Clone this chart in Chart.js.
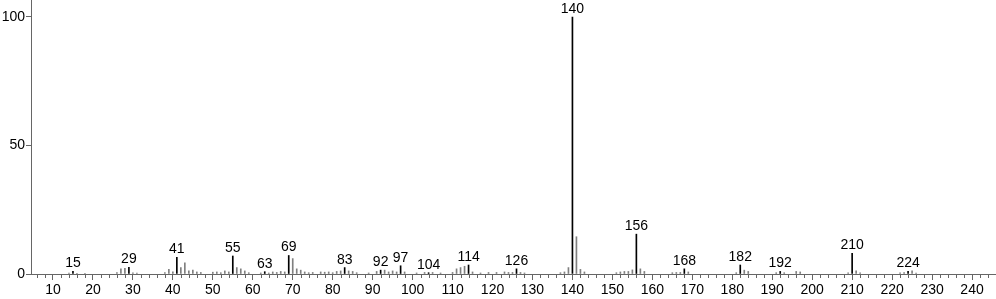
<!DOCTYPE html>
<html>
<head>
<meta charset="utf-8">
<script src="https://cdn.jsdelivr.net/npm/chart.js@4.4.1/dist/chart.umd.min.js"></script>
<style>
  html, body { margin: 0; padding: 0; background: #fff; }
  #wrap { width: 996px; height: 299px; position: relative; }
</style>
</head>
<body>
<div id="wrap"><canvas id="ms"></canvas></div>
<script>
// mass spectrum: m/z and relative intensity (%)
const mz = [
  14, 15, 16, 18, 26, 27, 28, 29, 30, 31,
  38, 39, 40, 41, 42, 43, 44, 45, 46, 47,
  50, 51, 52, 53, 54, 55, 56, 57, 58, 59,
  62, 63, 64, 65, 66, 67, 68, 69, 70, 71, 72, 73, 74, 75,
  77, 78, 79, 80, 81, 82, 83, 84, 85, 86,
  89, 91, 92, 93, 94, 95, 96, 97, 98,
  101, 103, 104, 105, 107,
  110, 111, 112, 113, 114, 115, 117, 119, 121, 123, 124, 125, 126, 127, 128,
  137, 138, 139, 140, 141, 142, 143,
  151, 152, 153, 154, 155, 156, 157, 158,
  165, 166, 167, 168, 169,
  181, 182, 183, 184,
  191, 192, 193, 196, 197,
  209, 210, 211, 212,
  222, 223, 224, 225, 226
];
const intensity = [
  0.4, 1.0, 0.3, 0.3, 0.6, 2.0, 2.2, 2.6, 0.5, 0.4,
  0.6, 1.8, 0.8, 6.5, 2.5, 4.3, 1.2, 1.5, 0.8, 0.6,
  0.7, 0.8, 0.5, 1.2, 0.8, 7.0, 2.5, 2.0, 1.2, 0.5,
  0.4, 0.9, 0.4, 0.8, 0.6, 1.0, 0.8, 7.2, 6.0, 2.0, 1.5, 0.8, 0.5, 0.6,
  0.8, 0.7, 0.8, 0.5, 1.0, 1.2, 2.5, 1.2, 1.0, 0.5,
  0.4, 1.0, 1.5, 1.5, 0.8, 1.2, 0.8, 3.2, 0.8,
  0.4, 0.6, 0.5, 0.6, 0.4,
  0.6, 2.0, 2.5, 3.0, 3.5, 0.8, 0.4, 0.6, 0.6, 0.8, 0.6, 0.6, 2.0, 0.6, 0.4,
  0.5, 0.8, 2.5, 100, 14.5, 1.8, 0.8,
  0.5, 0.8, 1.0, 1.0, 1.6, 15.5, 2.0, 1.0,
  0.5, 0.6, 0.6, 2.0, 0.8,
  0.5, 3.5, 1.5, 1.0,
  0.5, 1.0, 0.5, 1.0, 0.8,
  0.5, 8.0, 1.2, 0.5,
  0.5, 0.6, 1.0, 1.2, 0.4
];
const labeledMz = [15, 29, 41, 55, 63, 69, 83, 92, 97, 104, 114, 126, 140, 156, 168, 182, 192, 210, 224];
const yTicks = [0, 50, 100];

const FONT = { family: 'Liberation Sans, Arial, sans-serif', size: 14 };
const AXIS_COLOR = '#666';

const labeledPts = [];
const otherPts = [];
mz.forEach((m, i) => {
  const p = { x: m, y: intensity[i] };
  (labeledMz.includes(m) ? labeledPts : otherPts).push(p);
});

// peak labels above the labeled peaks
const peakLabels = {
  id: 'peakLabels',
  afterDatasetsDraw(chart) {
    const { ctx, scales: { x, y } } = chart;
    ctx.save();
    ctx.font = '14px ' + FONT.family;
    ctx.fillStyle = '#000';
    ctx.textAlign = 'center';
    ctx.textBaseline = 'alphabetic';
    labeledPts.forEach(p => {
      ctx.fillText(String(p.x), x.getPixelForValue(p.x), y.getPixelForValue(p.y) - 4);
    });
    ctx.restore();
  }
};

// minor ticks every 2 m/z (shorter than the labeled ones)
const minorTicks = {
  id: 'minorTicks',
  afterDraw(chart) {
    const { ctx, scales: { x }, chartArea } = chart;
    ctx.save();
    ctx.strokeStyle = AXIS_COLOR;
    ctx.lineWidth = 1;
    ctx.beginPath();
    for (let v = 6; v <= 246; v += 2) {
      if (v % 10 === 0) continue;
      const px = Math.round(x.getPixelForValue(v)) + 0.5;
      ctx.moveTo(px, chartArea.bottom);
      ctx.lineTo(px, chartArea.bottom + 4);
    }
    ctx.stroke();
    ctx.restore();
  }
};

new Chart(document.getElementById('ms'), {
  type: 'bar',
  data: {
    datasets: [
      { data: otherPts, backgroundColor: '#808080', barThickness: 1, grouped: false },
      { data: labeledPts, backgroundColor: '#000', barThickness: 1, grouped: false },
    ]
  },
  options: {
    responsive: true,
    maintainAspectRatio: false,
    animation: false,
    layout: { padding: 0 },
    plugins: { legend: { display: false }, tooltip: { enabled: false } },
    scales: {
      x: {
        type: 'linear',
        min: 4.5,
        max: 246,
        offset: false,
        afterBuildTicks: s => { s.ticks = []; for (let v = 10; v <= 240; v += 10) s.ticks.push({ value: v }); },
        afterFit: s => { s.height = 25; s.paddingLeft = 0; s.paddingRight = 0; },
        grid: { drawOnChartArea: false, drawTicks: true, tickLength: 6, color: AXIS_COLOR, offset: false },
        border: { display: true, color: AXIS_COLOR, width: 1 },
        ticks: { color: '#000', font: FONT, padding: 2, maxRotation: 0, autoSkip: false }
      },
      y: {
        min: 0,
        max: 106.6,
        afterBuildTicks: s => { s.ticks = yTicks.map(v => ({ value: v })); },
        afterFit: s => { s.width = 31; s.paddingTop = 0; s.paddingBottom = 0; },
        grid: { drawOnChartArea: false, drawTicks: true, tickLength: 5, color: AXIS_COLOR },
        border: { display: true, color: AXIS_COLOR, width: 1 },
        ticks: { color: '#000', font: FONT, padding: 1 }
      }
    }
  },
  plugins: [peakLabels, minorTicks]
});
</script>
</body>
</html>
